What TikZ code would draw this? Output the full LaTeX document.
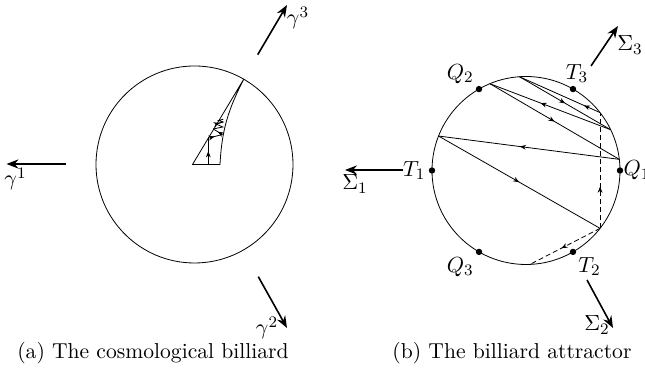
\documentclass[tikz,border=0pt]{standalone}
\usepackage{amsmath,amssymb}
\usepackage{tikz}
\usetikzlibrary{arrows.meta, decorations.markings, calc}

\begin{document}
\begin{tikzpicture}[
      x=0.5pt, y=0.5pt,
      font=\fontsize{10.8}{13}\selectfont,
      wall/.style={line width=0.4pt},
      ray/.style={line width=0.4pt},
      dray/.style={ray, dash pattern=on 2.5pt off 1.5pt},
      flow/.style={-{Stealth[length=6pt, width=4.6pt]}, line width=0.8pt},
      midarr/.style={postaction={decorate}, decoration={markings,
          mark=at position #1 with {\arrow{Stealth[length=3pt, width=2.4pt]}}}},
      midarr/.default=0.5,
      dot/.style={circle, fill, inner sep=0pt, minimum size=3.2pt},
    ]
    \useasboundingbox (0,0) rectangle (645,378);

    % (a) cosmological billiard
    \coordinate (lc) at (194.5,213.5);
    \draw[wall] (lc) circle (98.5);
    \coordinate (apex) at (192.5,213.5);
    \coordinate (base) at (220,213.5);
    \coordinate (tip) at ($(lc)+(60:98.5)$);
    \draw[wall] (apex) -- (base) to[out=87, in=243] (tip) -- cycle;
    % trajectory in the fundamental domain
    \draw[ray, midarr=0.5] (208.3,213.5) -- (208.3,239.8);
    \draw[ray, midarr=0.45] (208.3,239.8) -- (222.4,243.5);
    \draw[ray, midarr=0.5] (222.4,243.5) -- (213.2,249);
    \draw[ray] (213.2,249) -- (222.8,251) -- (216,254) -- (223.1,256)
      -- (218.5,257.5) -- (223.3,258.8);
    \draw[ray, midarr=0.5] (216,254) -- (223.1,256);

    \coordinate (g1a) at (66,214);     \coordinate (g1b) at (6.5,214);
    \coordinate (g2a) at (258.3,101.3); \coordinate (g2b) at (287,50);
    \coordinate (g3a) at (257.7,323.3); \coordinate (g3b) at (287,373);
    \draw[flow] (g1a) -- (g1b) node[xshift=4.5pt, yshift=-7.5pt] {$\gamma^1$};
    \draw[flow] (g2a) -- (g2b) node[xshift=-10pt, yshift=0pt] {$\gamma^2$};
    \draw[flow] (g3a) -- (g3b) node[xshift=5.5pt, yshift=-6.5pt] {$\gamma^3$};

    \node (capa) at (153,25) {(a) The cosmological billiard};

    % (b) billiard attractor
    \coordinate (rc) at (526,207.5);
    \draw[wall] (rc) circle (94);
    \node[dot, label={[label distance=-3.5pt]right:$Q_1$}] (q1) at ($(rc)+(0:94)$) {};
    \node[dot, label={[label distance=-3pt]above left:$Q_2$}] (q2) at ($(rc)+(120:94)$) {};
    \node[dot, label={[label distance=-3pt]below left:$Q_3$}] (q3) at ($(rc)+(240:94)$) {};
    \node[dot, label={[label distance=-2pt]left:$T_1$}] (t1) at ($(rc)+(180:94)$) {};
    \node[dot, label={[label distance=-3pt]below right:$T_2$}] (t2) at ($(rc)+(300:94)$) {};
    \node[dot, label={[label distance=-2pt, xshift=2pt]above:$T_3$}] (t3) at ($(rc)+(60:94)$) {};

    % bounce points
    \coordinate (ba) at ($(rc)+(158.5:94)$);
    \coordinate (bb) at ($(rc)+(6.8:94)$);
    \coordinate (bc) at ($(rc)+(-38:94)$);
    \coordinate (bd) at ($(rc)+(-87.6:94)$);
    \coordinate (be) at ($(rc)+(112.6:94)$);
    \coordinate (bf) at ($(rc)+(25.7:94)$);
    \coordinate (bh) at ($(rc)+(94:94)$);
    \coordinate (bp) at ($(rc)+(38:94)$);

    \draw[ray, midarr=0.2] (bp) -- (bh);
    \draw[ray, midarr=0.5] (bh) -- (bf);
    \draw[ray, midarr=0.58] (bf) -- (be);
    \draw[ray, midarr=0.5] (be) -- (bb);
    \draw[ray, midarr=0.55] (bb) -- (ba);
    \draw[ray, midarr=0.5] (ba) -- (bc);
    \draw[dray, midarr=0.36] (bc) -- (bp);
    \draw[dray, midarr=0.55] (bc) -- (bd);

    \coordinate (s1a) at (403.5,208); \coordinate (s1b) at (345,208);
    \coordinate (s2a) at (587,98);    \coordinate (s2b) at (613,50);
    \coordinate (s3a) at (591,312);   \coordinate (s3b) at (618,352);
    \draw[flow] (s1a) -- (s1b) node[xshift=5pt, yshift=-7pt] {$\Sigma_1$};
    \draw[flow] (s2a) -- (s2b) node[xshift=-8pt, yshift=1.5pt] {$\Sigma_2$};
    \draw[flow] (s3a) -- (s3b) node[xshift=6pt, yshift=-9.5pt] {$\Sigma_3$};

    \node (capb) at (512,25) {(b) The billiard attractor};
  \end{tikzpicture}
\end{document}
